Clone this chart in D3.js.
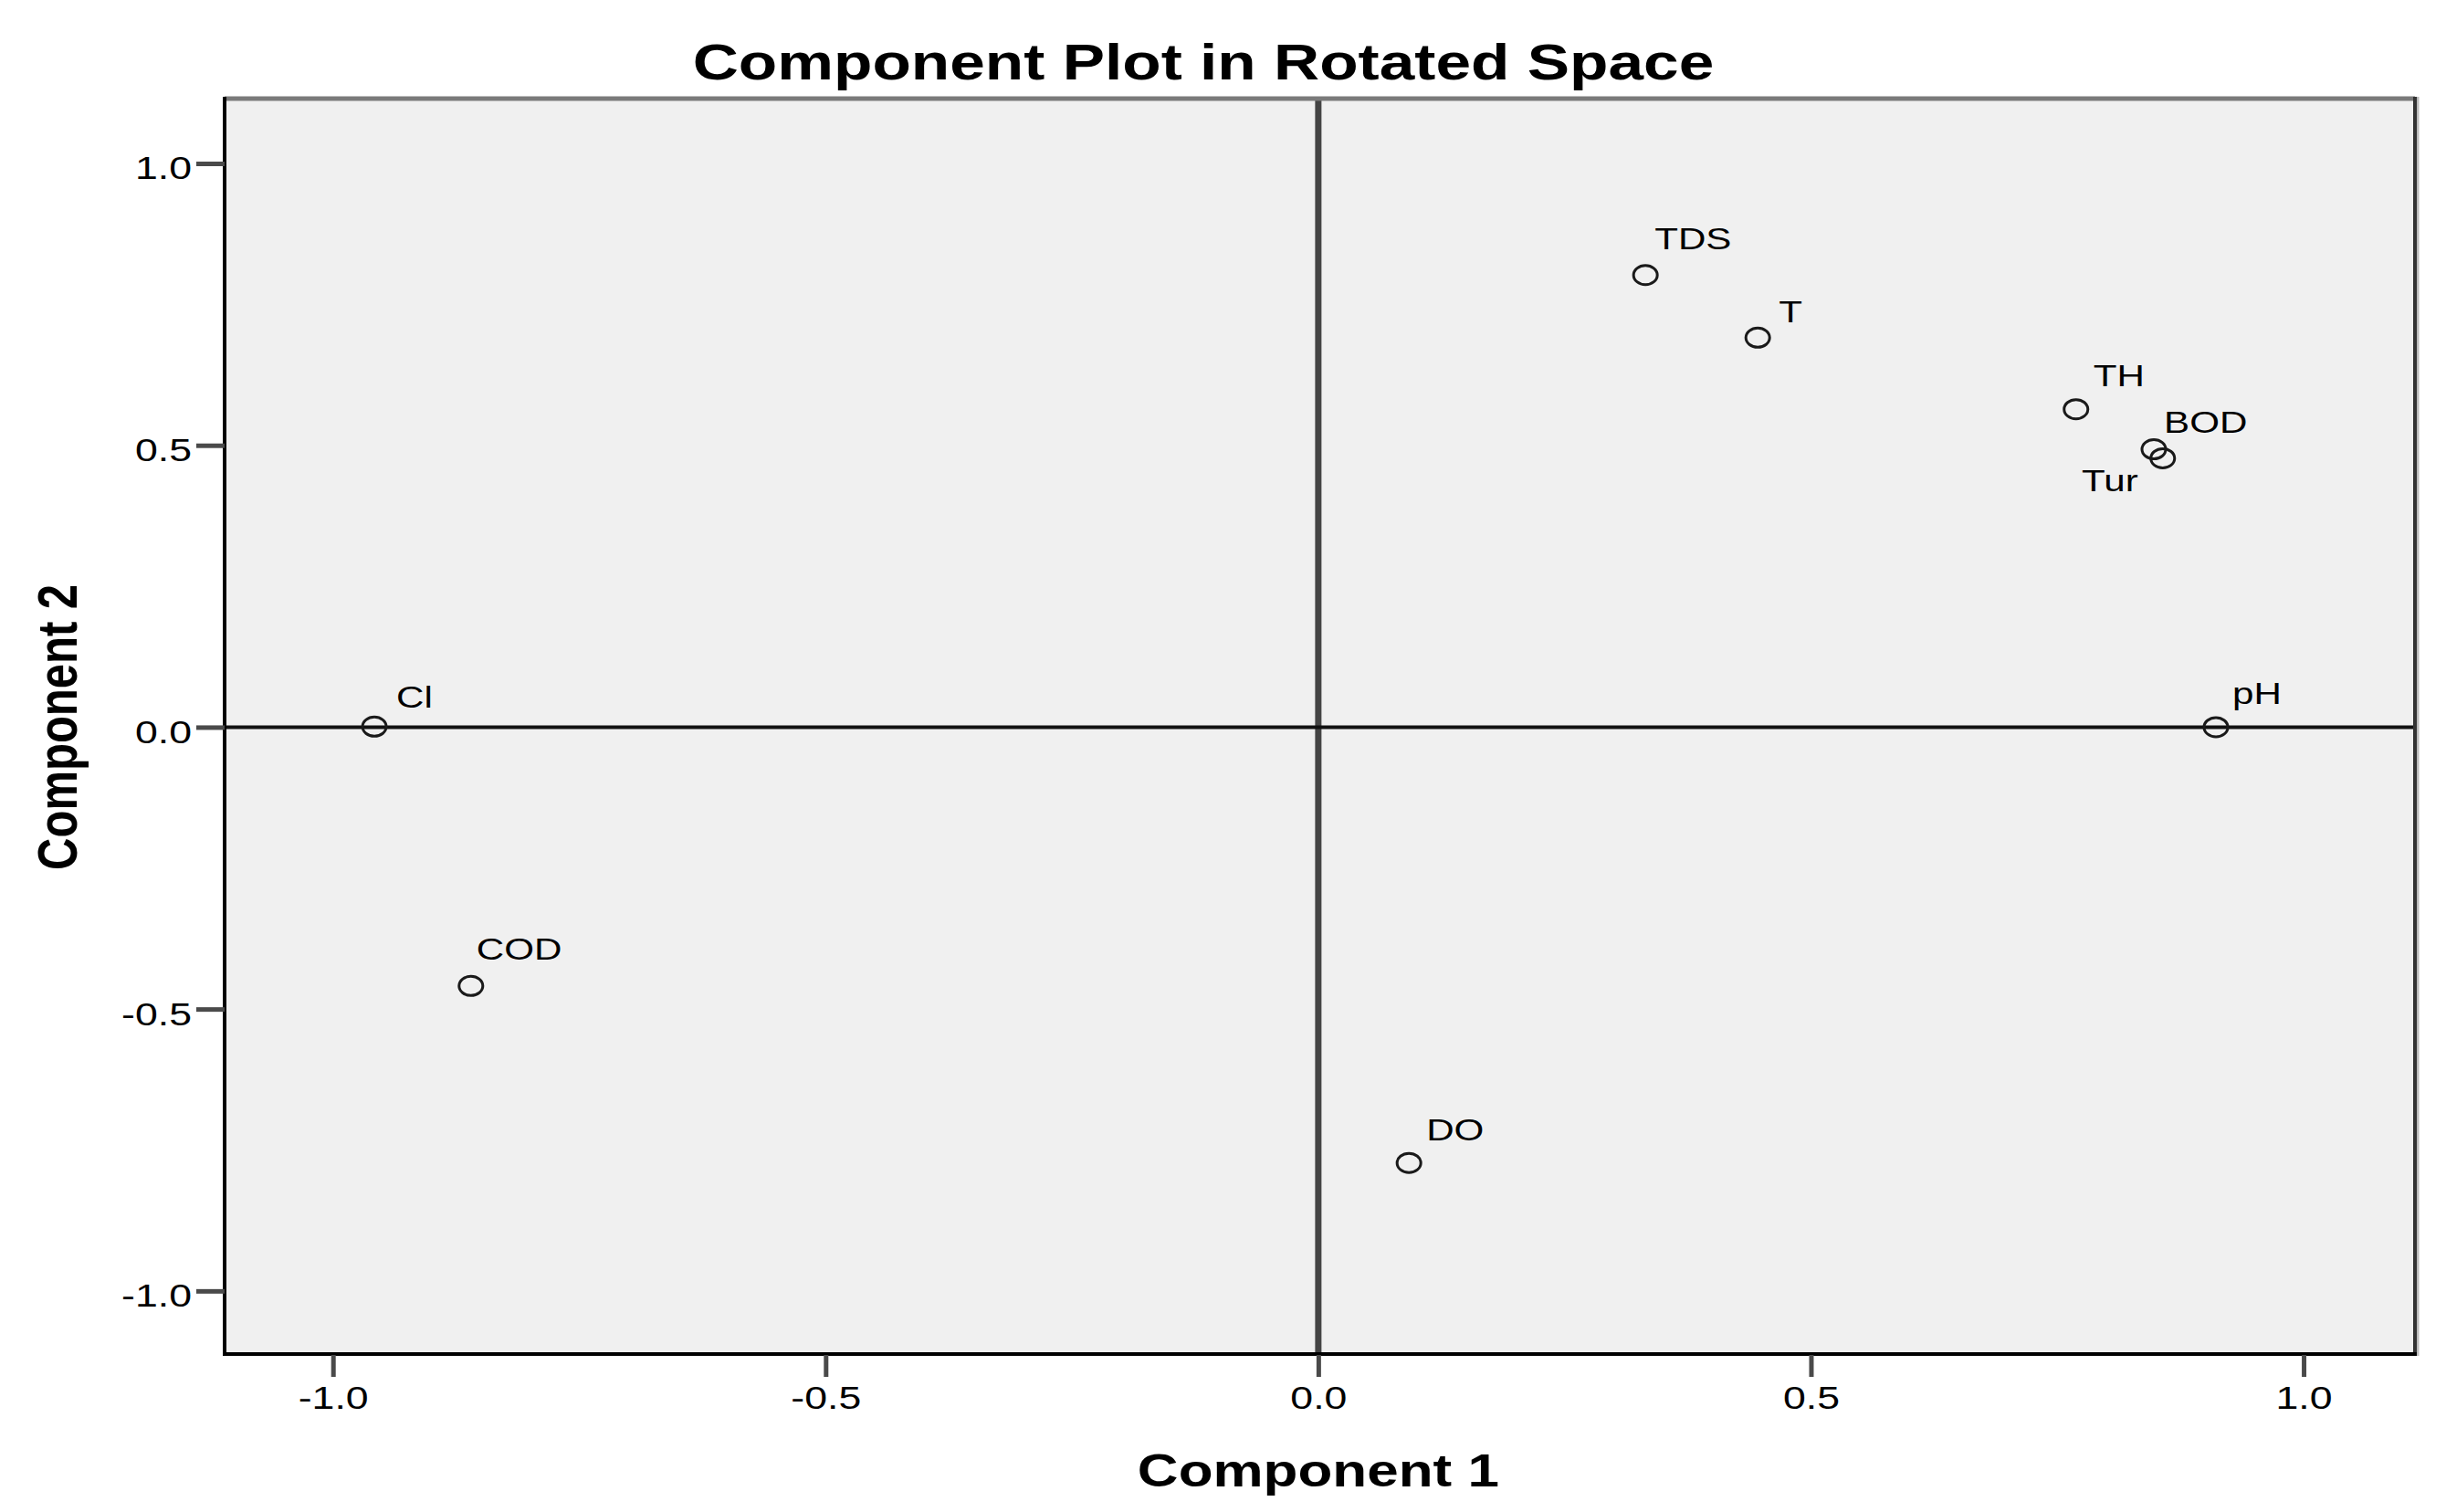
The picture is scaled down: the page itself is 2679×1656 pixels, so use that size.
<!DOCTYPE html>
<html>
<head>
<meta charset="utf-8">
<script src="https://cdn.jsdelivr.net/npm/d3@7"></script>
<style>
  body { margin: 0; background: #fff; }
  text { font-family: "Liberation Sans", Arial, sans-serif; fill: #000; }
</style>
</head>
<body>
<div id="chart"></div>
<script>
// Loadings
let varNames = ['TDS', 'T', 'TH', 'BOD', 'Tur', 'pH', 'Cl', 'COD', 'DO']
let comp1 = [0.332, 0.446, 0.769, 0.848, 0.857, 0.911, -0.958, -0.860, 0.092]
let comp2 = [0.802, 0.691, 0.564, 0.493, 0.477, 0.000, 0.001, -0.459, -0.773]
let tickValues = [-1.0, -0.5, 0.0, 0.5, 1.0]

// Label placement next to each marker (SPSS moves a few to avoid overlap)
let labelNudge = {
  TDS: [10, -28, 'start'], T: [23, -17, 'start'], TH: [19, -25, 'start'],
  BOD: [11, -18, 'start'], Tur: [-27, 36, 'end'], pH: [18, -25, 'start'],
  Cl: [24, -21, 'start'], COD: [6, -29, 'start'], DO: [19, -25, 'start']
}

let W = 2679, H = 1656
let plot = {l: 246, t: 108, r: 2645, b: 1483}
let stretch = 1.24 // the source image is stretched sideways

let svg = d3.select('#chart').append('svg')
  .attr('width', W)
  .attr('height', H)

let x = d3.scaleLinear().domain([-1.11, 1.113]).range([plot.l, plot.r])
let y = d3.scaleLinear().domain([-1.112, 1.115]).range([plot.b, plot.t])

// Plot background
svg.append('rect')
  .attr('x', plot.l).attr('y', plot.t)
  .attr('width', plot.r - plot.l).attr('height', plot.b - plot.t)
  .style('fill', '#f0f0f0')

// Reference lines through zero
svg.append('line')
  .attr('x1', x(0)).attr('x2', x(0))
  .attr('y1', plot.t).attr('y2', plot.b)
  .style('stroke', '#444').style('stroke-width', 7)
svg.append('line')
  .attr('x1', plot.l).attr('x2', plot.r)
  .attr('y1', y(0)).attr('y2', y(0))
  .style('stroke', '#111').style('stroke-width', 4)

// Frame
svg.append('line').attr('x1', plot.l).attr('x2', plot.r).attr('y1', plot.t).attr('y2', plot.t)
  .style('stroke', '#7a7a7a').style('stroke-width', 5)
svg.append('line').attr('x1', plot.r + 3).attr('x2', plot.r + 3).attr('y1', plot.t - 2).attr('y2', plot.b + 2)
  .style('stroke', '#bbb').style('stroke-width', 3)
svg.append('line').attr('x1', plot.r).attr('x2', plot.r).attr('y1', plot.t - 2).attr('y2', plot.b + 2)
  .style('stroke', '#333').style('stroke-width', 4)
svg.append('line').attr('x1', plot.l).attr('x2', plot.l).attr('y1', plot.t - 2).attr('y2', plot.b + 2)
  .style('stroke', '#000').style('stroke-width', 4)
svg.append('line').attr('x1', plot.l - 2).attr('x2', plot.r + 2).attr('y1', plot.b).attr('y2', plot.b)
  .style('stroke', '#000').style('stroke-width', 4)

// Axes
let fmt = function(d) { return d.toFixed(1) }

let xAxis = svg.append('g')
  .attr('transform', `translate(0, ${plot.b + 1})`)
  .call(d3.axisBottom(x).tickValues(tickValues).tickFormat(fmt).tickSize(24).tickPadding(9))
let yAxis = svg.append('g')
  .attr('transform', `translate(${plot.l}, 0)`)
  .call(d3.axisLeft(y).tickValues(tickValues).tickFormat(fmt).tickSize(31).tickPadding(5))

svg.selectAll('.domain').remove()
svg.selectAll('.tick line').style('stroke', '#4a4a4a').style('stroke-width', 5)
svg.selectAll('.tick text')
  .style('font-size', '36px')
  .style('fill', '#000')

xAxis.selectAll('.tick text')
  .attr('transform', `scale(${stretch},1)`)
yAxis.selectAll('.tick text')
  .attr('dy', '0.47em')
  .each(function() {
    let t = d3.select(this)
    let tx = +t.attr('x')
    t.attr('x', 0).attr('transform', `translate(${tx},0) scale(${stretch},1)`)
  })

// Markers and labels
let points = varNames.map(function(n, i) { return {name: n, c1: comp1[i], c2: comp2[i]} })

svg.append('g').selectAll('ellipse')
  .data(points)
  .enter().append('ellipse')
  .attr('cx', d => x(d.c1))
  .attr('cy', d => y(d.c2))
  .attr('rx', 10.5 * stretch)
  .attr('ry', 10.5)
  .style('fill', 'none')
  .style('stroke', '#1a1a1a')
  .style('stroke-width', 3)

svg.append('g').selectAll('text')
  .data(points)
  .enter().append('text')
  .attr('transform', d => {
    let n = labelNudge[d.name]
    return `translate(${x(d.c1) + n[0]},${y(d.c2) + n[1]}) scale(${stretch},1)`
  })
  .attr('text-anchor', d => labelNudge[d.name][2])
  .style('font-size', '34px')
  .text(d => d.name)

// Titles
svg.append('text')
  .attr('transform', `translate(1318, 87) scale(${stretch},1)`)
  .attr('text-anchor', 'middle')
  .style('font-size', '56px')
  .style('font-weight', 'bold')
  .text('Component Plot in Rotated Space')

svg.append('text')
  .attr('transform', `translate(${x(0)}, 1628) scale(${stretch},1)`)
  .attr('text-anchor', 'middle')
  .style('font-size', '50px')
  .style('font-weight', 'bold')
  .text('Component 1')

svg.append('text')
  .attr('transform', `translate(84, ${y(0)}) scale(${stretch},1) rotate(-90)`)
  .attr('text-anchor', 'middle')
  .style('font-size', '49px')
  .style('font-weight', 'bold')
  .text('Component 2')
</script>
</body>
</html>
